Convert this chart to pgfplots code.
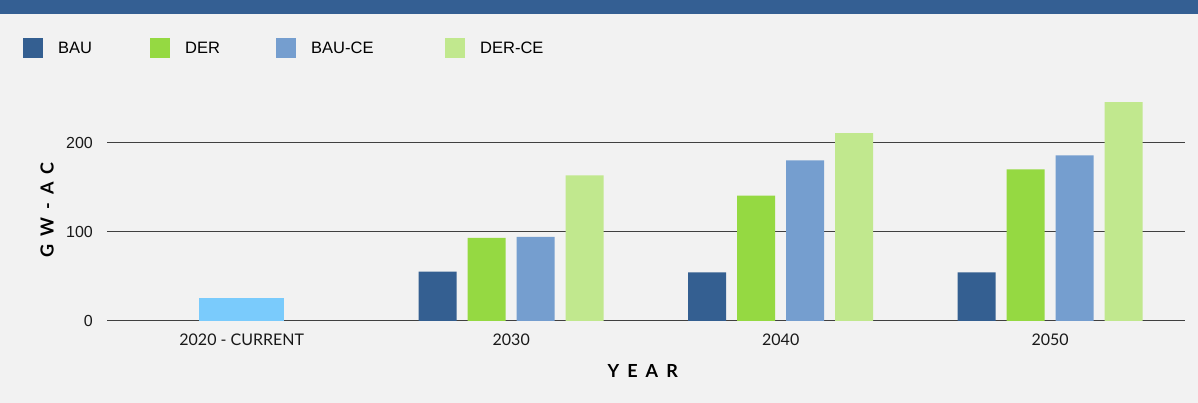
\documentclass[border=0pt]{standalone}
\usepackage{fontspec}
\setmainfont{Lato}
\newfontfamily\arialf{Liberation Sans}
\newfontfamily\labelf[LetterSpace=45]{Lato}
\usepackage{pgfplots}
\pgfplotsset{compat=1.18}
\definecolor{bg}{HTML}{F2F2F2}
\definecolor{banner}{HTML}{345F93}
\definecolor{cBAU}{HTML}{345F91}
\definecolor{cDER}{HTML}{95D942}
\definecolor{cBAUCE}{HTML}{759ECF}
\definecolor{cDERCE}{HTML}{C1E88E}
\definecolor{cNow}{HTML}{7ACBFC}
\pgfplotsset{sq legend/.style={legend image code/.code={\fill[##1] (0pt,-10pt) rectangle (20pt,10pt);}}}
\begin{document}
\begin{tikzpicture}
\fill[bg] (0,0) rectangle (1198pt,403pt);
\fill[banner] (0,389pt) rectangle (1198pt,403pt);
\begin{axis}[
  at={(107pt,82pt)}, anchor=south west,
  scale only axis, width=1078pt, height=231.4pt,
  xmin=-0.5, xmax=3.5, ymin=0, ymax=260,
  axis line style={draw=none},
  major tick length=0pt,
  /pgf/number format/assume math mode=true,
  xtick={0,1,2,3},
  xticklabels={2020 - CURRENT,2030,2040,2050},
  ytick={0,100,200},
  ymajorgrids,
  grid style={draw=black!75, line width=1pt},
  xticklabel style={font=\fontsize{16}{18}\selectfont, inner sep=0pt, yshift=-13pt, text=black!90},
  yticklabel style={font=\arialf\fontsize{16}{18}\selectfont, inner sep=0pt, xshift=-14pt, text=black!90},
  xlabel={\labelf\bfseries\fontsize{18}{20}\selectfont YEAR},
  xlabel style={at={(axis description cs:0.497,0)}, anchor=center, yshift=-50pt},
  ylabel={\labelf\bfseries\fontsize{18}{20}\selectfont GW-AC},
  ylabel style={at={(axis description cs:0,0.48)}, anchor=center, yshift=60pt},
  legend columns=4,
  legend style={at={(axis description cs:-0.0779,1.223)}, anchor=north west,
    draw=none, fill=none, inner sep=0pt,
    font=\arialf\fontsize{16.5}{18}\selectfont,
    nodes={inner sep=0pt},
    /tikz/every odd column/.append style={column sep=15pt}},
]
\addplot[ybar, bar width=85pt, bar shift=0pt, fill=cNow, draw=none, forget plot] coordinates {(0,26)};
\addplot[ybar, sq legend, bar width=38pt, bar shift=-73.5pt, fill=cBAU, draw=none] coordinates {(1,55.4) (2,54.7) (3,54.7)};
\addlegendentry{\makebox[92pt][l]{BAU}}
\addplot[ybar, sq legend, bar width=38pt, bar shift=-24.5pt, fill=cDER, draw=none] coordinates {(1,93.3) (2,140.8) (3,170.4)};
\addlegendentry{\makebox[91pt][l]{DER}}
\addplot[ybar, sq legend, bar width=38pt, bar shift=24.5pt, fill=cBAUCE, draw=none] coordinates {(1,94.4) (2,180.6) (3,186.2)};
\addlegendentry{\makebox[134pt][l]{BAU-CE}}
\addplot[ybar, sq legend, bar width=38pt, bar shift=73.5pt, fill=cDERCE, draw=none] coordinates {(1,163.7) (2,211) (3,246)};
\addlegendentry{DER-CE}
\end{axis}
\end{tikzpicture}
\end{document}
